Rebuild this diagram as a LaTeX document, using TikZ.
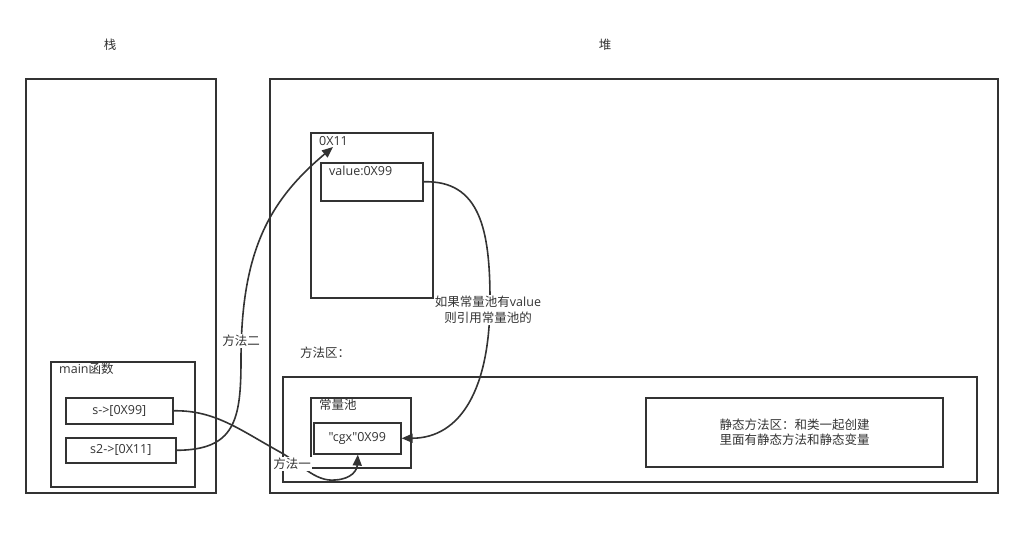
\documentclass[tikz,border=0pt]{standalone}
\usepackage{fontspec}
\setmainfont{Open Sans}
\newfontfamily\cjk{Noto Sans CJK SC}
\font\plainqf="Open Sans" at 12.5pt
\usetikzlibrary{arrows.meta,calc}
\definecolor{ln}{HTML}{333333}
\begin{document}
\begin{tikzpicture}[x=1pt,y=-1pt,
  box/.style={draw=ln,line width=2pt,inner sep=0pt,anchor=north west,text=ln,font=\fontsize{12.5}{15}\selectfont},
  thinbox/.style={box,line width=1.6pt},
  txt/.style={text=ln,font=\fontsize{12.5}{16}\selectfont,inner sep=1pt},
  lbl/.style={txt,fill=white,inner sep=1pt},
  conn/.style={draw=ln,line width=1.6pt,-{Triangle[length=11pt,width=9pt]}},
  ]
\useasboundingbox (0,0) rectangle (1022,556);
% titles
\node[txt] (tstack) at (110,45) {\cjk 栈};
\node[txt] (theap) at (605,45) {\cjk 堆};
% big boxes
\node[box,minimum width=190pt,minimum height=414pt] (stack) at (25,78) {};
\node[box,minimum width=728pt,minimum height=414pt] (heap) at (269,78) {};
% main function
\node[box,minimum width=144pt,minimum height=125pt] (main) at (50,361) {};
\node[txt,anchor=west] (mainlbl) at (58,369) {main{\cjk 函数}};
\node[thinbox,minimum width=107pt,minimum height=26pt] (s) at (65,397) {s->[0X99]};
\node[thinbox,minimum width=110pt,minimum height=25pt] (s2) at (65,437) {s2->[0X11]};
% object 0X11
\node[box,minimum width=122pt,minimum height=165pt] (obj) at (310,132) {};
\node[txt,anchor=west] (objlbl) at (318,141) {0X11};
\node[thinbox,minimum width=102pt,minimum height=38pt] (val) at (320,162) {};
\node[txt,anchor=west] (vallbl) at (328,171) {value:0X99};
% method area
\node[txt] (malbl) at (325,353) {\cjk 方法区：};
\node[box,minimum width=694pt,minimum height=105pt] (ma) at (282,376) {};
\node[box,minimum width=100pt,minimum height=70pt] (pool) at (310,397) {};
\node[txt,anchor=west] (poollbl) at (318,405) {\cjk 常量池};
\node[thinbox,minimum width=87pt,minimum height=31pt,fill=white] (cgx) at (313,422) {{\plainqf "cgx"0X99}};
\node[box,minimum width=297pt,minimum height=69pt,align=center,font=\fontsize{12.5}{15}\selectfont\cjk] (static) at (645,397) {静态方法区：和类一起创建\\里面有静态方法和静态变量};
% connectors
\coordinate (objtip) at ($(obj.north west)+(23,15)$);
\coordinate (cgxbot) at ($(cgx.south)+(0.5,0)$);
\draw[conn] (s2.east) .. controls (235,450) and (241,420) .. (241,360)
  .. controls (241,250) and (270,200) .. (objtip);
\draw[conn] (s.east) .. controls (215,410) and (240,430) .. (280,452)
  .. controls (300,463) and (315,482) .. (335,480)
  .. controls (352,479) and (357,470) .. (cgxbot);
\draw[conn] (val.east) .. controls (480,180) and (490,230) .. (490,300)
  .. controls (490,390) and (460,438) .. (cgx.east);
% connector labels
\node[lbl] (m2) at (241,341) {\cjk 方法二};
\node[lbl] (m1) at (292,464) {\cjk 方法一};
\node[lbl,align=center,font=\fontsize{12.5}{16}\selectfont] (note) at (488,310) {{\cjk 如果常量池有}value\\{\cjk 则引用常量池的}};
\end{tikzpicture}
\end{document}
